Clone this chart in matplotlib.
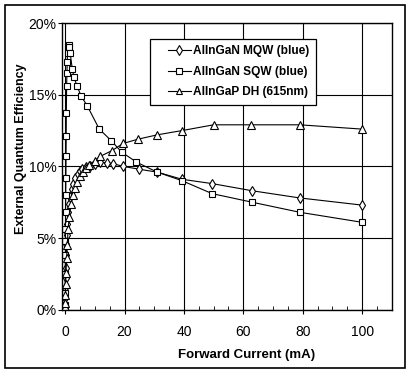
import matplotlib
matplotlib.use('Agg')
import matplotlib.pyplot as plt
from matplotlib.ticker import MultipleLocator, FuncFormatter
from matplotlib.patches import Rectangle
from matplotlib.lines import Line2D
from matplotlib.legend_handler import HandlerLine2D

plt.rcParams['font.family'] = ['Liberation Sans', 'DejaVu Sans']

# Data (current in mA, efficiency in %)
mqw_x = [0.02, 0.05, 0.1, 0.15, 0.2, 0.3, 0.4, 0.5, 0.7, 1.0, 1.3, 1.7, 2.2, 2.8, 3.4, 4.2,
         5.0, 5.7, 7.0, 8.4, 10.0, 11.8, 14.0, 16.0, 19.5, 25.0, 31.0, 39.4, 49.5, 63.0, 79.0, 100.0]
mqw_y = [0.3, 0.8, 1.5, 2.2, 2.9, 3.8, 4.6, 5.2, 6.0, 6.8, 7.4, 7.9, 8.4, 8.8, 9.2, 9.5,
         9.7, 9.8, 9.95, 10.05, 10.15, 10.3, 10.25, 10.2, 10.0, 9.8, 9.6, 9.1, 8.8, 8.3, 7.8, 7.3]

sqw_x = [0.0, 0.02, 0.05, 0.08, 0.1, 0.12, 0.15, 0.2, 0.25, 0.3, 0.35, 0.4, 0.5, 0.6, 0.7,
         0.8, 1.0, 1.2, 1.4, 1.7, 2.4, 3.0, 4.0, 5.4, 7.5, 11.5, 15.5, 19.0, 24.0, 31.0, 39.4,
         49.5, 63.0, 79.0, 100.0]
sqw_y = [0.3, 1.2, 2.5, 3.8, 4.8, 5.6, 6.8, 8.0, 9.2, 10.7, 12.1, 13.7, 15.6, 16.5, 17.3,
         17.9, 18.3, 18.5, 18.3, 17.9, 16.8, 16.2, 15.6, 14.9, 14.2, 12.6, 11.8, 11.0, 10.3, 9.6, 9.0,
         8.1, 7.5, 6.8, 6.1]

gap_x = [0.02, 0.05, 0.1, 0.2, 0.3, 0.5, 0.7, 1.0, 1.4, 2.0, 2.6, 3.2, 4.0, 5.0, 6.0, 7.0,
         8.0, 10.0, 11.8, 15.8, 19.5, 24.6, 31.0, 39.4, 50.0, 62.6, 79.0, 100.0]
gap_y = [0.2, 0.5, 1.0, 1.8, 2.6, 3.6, 4.5, 5.6, 6.5, 7.4, 8.0, 8.5, 8.9, 9.3, 9.6, 9.9,
         10.1, 10.4, 10.7, 11.1, 11.6, 11.9, 12.2, 12.5, 12.9, 12.9, 12.9, 12.6]

labels = ['AlInGaN MQW (blue)', 'AlInGaN SQW (blue)', 'AlInGaP DH (615nm)']

fig = plt.figure(figsize=(4.09, 3.71), dpi=100)
fig.patches.append(Rectangle((0.012, 0.008), 0.978, 0.978, transform=fig.transFigure,
                             fill=False, edgecolor='black', linewidth=1.2))
ax = fig.add_axes([0.152, 0.165, 0.806, 0.773])

mk = dict(color='black', linewidth=0.8, markerfacecolor='white', markeredgecolor='black',
          markeredgewidth=0.8)
ax.plot(mqw_x, mqw_y, marker='d', markersize=5.5, label=labels[0], **mk)
ax.plot(sqw_x, sqw_y, marker='s', markersize=4.8, label=labels[1], **mk)
ax.plot(gap_x, gap_y, marker='^', markersize=5.2, label=labels[2], **mk)

ax.set_xlim(-1, 110)
ax.set_ylim(0, 20)
ax.xaxis.set_major_locator(MultipleLocator(20))
ax.xaxis.set_minor_locator(MultipleLocator(5))
ax.yaxis.set_major_locator(MultipleLocator(5))
ax.yaxis.set_major_formatter(FuncFormatter(lambda v, p: '%d%%' % v))
ax.set_xticks([0, 20, 40, 60, 80, 100])
ax.tick_params(axis='x', which='major', direction='out', length=3, labelsize=10, pad=8)
ax.tick_params(axis='x', which='minor', direction='in', length=3)
ax.tick_params(axis='y', which='major', direction='out', length=3, labelsize=10, pad=1)
ax.grid(True, which='major', color='black', linewidth=0.8)
for s in ax.spines.values():
    s.set_linewidth(1.0)

ax.set_xlabel('Forward Current (mA)', fontsize=9.5, fontweight='bold')
ax.xaxis.set_label_coords(0.558, -0.135)
ax.set_ylabel('External Quantum Efficiency', fontsize=9, fontweight='bold')
ax.yaxis.set_label_coords(-0.108, 0.56)

# legend: handle pushed right, like the original's wide left margin
leg = ax.legend(loc='upper left', bbox_to_anchor=(0.267, 0.945), fancybox=False,
                framealpha=1, edgecolor='black', prop={'size': 8.6, 'weight': 'bold'},
                handlelength=2.85, handletextpad=0.2, borderpad=0.55, labelspacing=0.7,
                markerscale=0.85, borderaxespad=0,
                handler_map={Line2D: HandlerLine2D(xpad=0.9)})
leg.get_frame().set_linewidth(0.9)

fig.savefig('out.png', dpi=100)
